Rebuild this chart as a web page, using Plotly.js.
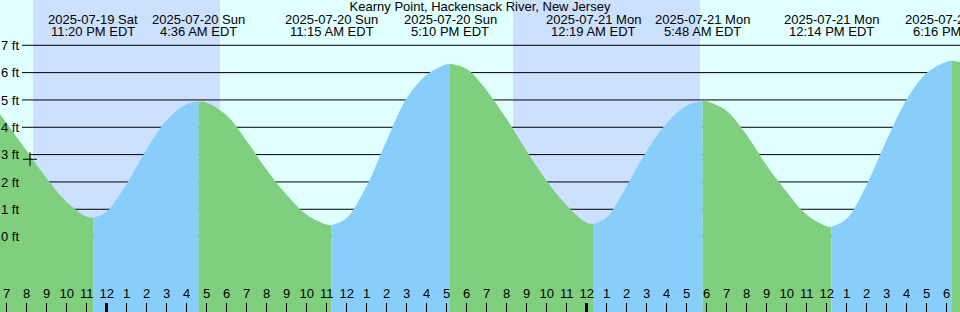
<!DOCTYPE html>
<html>
<head>
<meta charset="utf-8">
<script src="https://cdn.plot.ly/plotly-3.0.1.min.js"></script>
<style>html,body{margin:0;padding:0;background:#e0ffff;}#chart{width:960px;height:312px;}</style>
</head>
<body>
<div id="chart"></div>
<script>
// ---- data ----
const chartTitle = "Kearny Point, Hackensack River, New Jersey";

// tide height (ft) at sampled times, including each high/low
const times = [
  "2025-07-19 18:40","2025-07-19 19:00","2025-07-19 20:00","2025-07-19 21:00","2025-07-19 22:00","2025-07-19 23:00","2025-07-19 23:20",
  "2025-07-20 00:00","2025-07-20 01:00","2025-07-20 02:00","2025-07-20 03:00","2025-07-20 04:00","2025-07-20 04:36",
  "2025-07-20 05:00","2025-07-20 06:00","2025-07-20 07:00","2025-07-20 08:00","2025-07-20 09:00","2025-07-20 10:00","2025-07-20 11:00","2025-07-20 11:15",
  "2025-07-20 12:00","2025-07-20 13:00","2025-07-20 14:00","2025-07-20 15:00","2025-07-20 16:00","2025-07-20 17:00","2025-07-20 17:10",
  "2025-07-20 18:00","2025-07-20 19:00","2025-07-20 20:00","2025-07-20 21:00","2025-07-20 22:00","2025-07-20 23:00","2025-07-21 00:00","2025-07-21 00:19",
  "2025-07-21 01:00","2025-07-21 02:00","2025-07-21 03:00","2025-07-21 04:00","2025-07-21 05:00","2025-07-21 05:48",
  "2025-07-21 06:00","2025-07-21 07:00","2025-07-21 08:00","2025-07-21 09:00","2025-07-21 10:00","2025-07-21 11:00","2025-07-21 12:00","2025-07-21 12:14",
  "2025-07-21 13:00","2025-07-21 14:00","2025-07-21 15:00","2025-07-21 16:00","2025-07-21 17:00","2025-07-21 18:00","2025-07-21 18:16",
  "2025-07-21 18:40"
];
const heights = [
  4.49, 4.15, 3.14, 2.13, 1.27, 0.73, 0.69,
  0.91, 1.93, 3.20, 4.26, 4.84, 4.94,
  4.90, 4.44, 3.50, 2.45, 1.53, 0.80, 0.44, 0.42,
  0.68, 1.86, 3.51, 5.06, 5.92, 6.31, 6.32,
  6.13, 5.35, 4.30, 3.13, 2.03, 1.14, 0.51, 0.46,
  0.70, 1.84, 3.12, 4.15, 4.79, 4.96,
  4.95, 4.60, 3.72, 2.60, 1.63, 0.80, 0.38, 0.36,
  0.65, 1.90, 3.53, 5.02, 5.99, 6.40, 6.43,
  6.39
];

// highs and lows with their labels
const extremeTimes = ["2025-07-19 23:20","2025-07-20 04:36","2025-07-20 11:15","2025-07-20 17:10",
                      "2025-07-21 00:19","2025-07-21 05:48","2025-07-21 12:14","2025-07-21 18:16"];
const extremeDates = ["2025-07-19 Sat","2025-07-20 Sun","2025-07-20 Sun","2025-07-20 Sun",
                      "2025-07-21 Mon","2025-07-21 Mon","2025-07-21 Mon","2025-07-21 Mon"];
const extremeClock = ["11:20 PM EDT","4:36 AM EDT","11:15 AM EDT","5:10 PM EDT",
                      "12:19 AM EDT","5:48 AM EDT","12:14 PM EDT","6:16 PM EDT"];

// night periods (sunset -> sunrise)
const nightStart = ["2025-07-19 20:19","2025-07-20 20:19"];
const nightEnd   = ["2025-07-20 05:40","2025-07-21 05:40"];

// height levels and labels
const ftLevels = [0,1,2,3,4,5,6,7];
const ftLabels = ["0 ft","1 ft","2 ft","3 ft","4 ft","5 ft","6 ft","7 ft"];

// midnight (thick) ticks
const midnights = ["2025-07-20 00:00","2025-07-21 00:00"];

// current-time marker
const nowTime = ["2025-07-19 20:10"];
const nowHeight = [2.83];

// ---- styling ----
const xRange = ["2025-07-19 18:40","2025-07-21 18:40"];
const yRange = [-2.759, 8.657];
const DAY = "#e0ffff", NIGHT = "#cce0ff", FALL = "#7fcf7f", RISE = "#87cefa";
const FONT = "'Liberation Sans', Arial, Helvetica, sans-serif";
const base = yRange[0] - 2;

// ---- build traces ----
const cuts = [0];
times.forEach((t, i) => { if (extremeTimes.includes(t)) cuts.push(i); });
cuts.push(times.length - 1);

const traces = [];
for (let k = 0; k < cuts.length - 1; k++) {
  const a = cuts[k], b = cuts[k + 1];
  if (b <= a) continue;
  const xs = times.slice(a, b + 1), ys = heights.slice(a, b + 1);
  const color = ys[ys.length - 1] < ys[0] ? FALL : RISE;
  traces.push({x: [xs[0], xs[xs.length - 1]], y: [base, base], mode: "lines",
    line: {width: 0}, hoverinfo: "skip", showlegend: false});
  traces.push({x: xs, y: ys, mode: "lines", line: {width: 0, shape: "spline", color: color},
    fill: "tonexty", fillcolor: color, hoverinfo: "skip", showlegend: false});
}
traces.push({x: nowTime, y: nowHeight, xaxis: "x2", mode: "markers",
  marker: {symbol: "cross-thin", size: 10, line: {color: "#000", width: 1}},
  hoverinfo: "skip", showlegend: false});

// ---- shapes ----
const shapes = [];
nightStart.forEach((s, i) => shapes.push({type: "rect", layer: "below", xref: "x", yref: "paper",
  x0: s, x1: nightEnd[i], y0: 0, y1: 1, fillcolor: NIGHT, line: {width: 0}}));
ftLevels.forEach(v => shapes.push({type: "line", layer: "below", xref: "paper", yref: "y",
  x0: 22 / 960, x1: 1, y0: v, y1: v, line: {color: "#000", width: 1}}));

// ---- annotations ----
const annotations = [];
extremeTimes.forEach((t, i) => {
  annotations.push({x: t, xref: "x", y: 1 - 19.5 / 312, yref: "paper", text: extremeDates[i],
    showarrow: false, xanchor: "center", yanchor: "middle", font: {family: FONT, size: 13, color: "#000"}});
  annotations.push({x: t, xref: "x", y: 1 - 31.5 / 312, yref: "paper", text: extremeClock[i],
    showarrow: false, xanchor: "center", yanchor: "middle", font: {family: FONT, size: 13, color: "#000"}});
});

const hourAxis = {type: "date", range: xRange, showgrid: false, zeroline: false, showline: false,
  side: "top", anchor: "free", position: 0, ticklabeloverflow: "allow",
  ticks: "outside", ticklen: 9, tickcolor: "#000", fixedrange: true};

const layout = {
  width: 960, height: 312,
  margin: {l: 0, r: 0, t: 0, b: 0, pad: 0},
  paper_bgcolor: DAY, plot_bgcolor: DAY,
  showlegend: false,
  font: {family: FONT, size: 13, color: "#000"},
  title: {text: chartTitle, x: 0.5, xanchor: "center", xref: "paper", y: 1 - 6.2 / 312, yref: "container",
    yanchor: "middle", font: {family: FONT, size: 13, color: "#000"}},
  xaxis: Object.assign({}, hourAxis, {tickwidth: 1,
    tick0: "2025-07-19 00:00", dtick: 3600000, tickformat: "%-I",
    tickfont: {family: FONT, size: 13, color: "#000"}}),
  xaxis2: Object.assign({}, hourAxis, {overlaying: "x", matches: "x", tickwidth: 3,
    showticklabels: false, tickmode: "array", tickvals: midnights}),
  yaxis: {range: yRange, showgrid: false, zeroline: false, showline: false, ticks: "",
    side: "right", anchor: "free", position: 0, ticklabeloverflow: "allow",
    tickmode: "array", tickvals: ftLevels, ticktext: ftLabels,
    tickfont: {family: FONT, size: 13, color: "#000"}, fixedrange: true},
  shapes: shapes,
  annotations: annotations
};

Plotly.newPlot("chart", traces, layout, {staticPlot: true, displayModeBar: false});
</script>
</body>
</html>
